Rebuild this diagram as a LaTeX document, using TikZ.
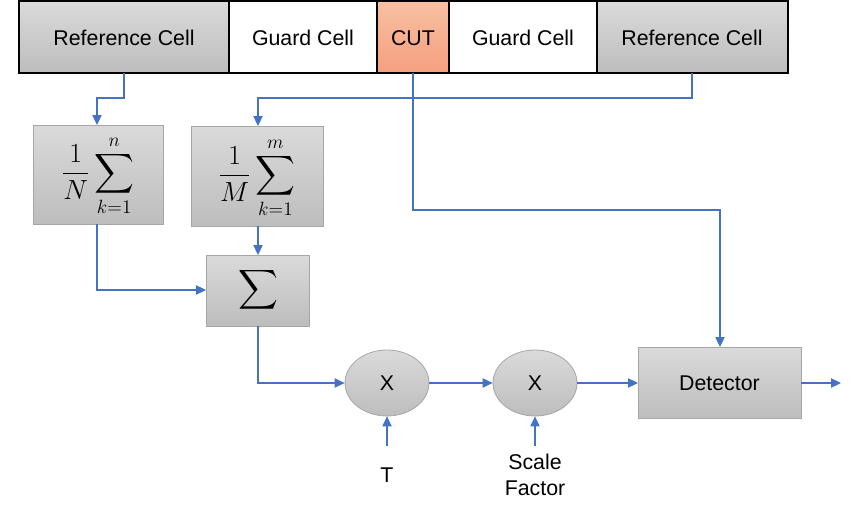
\documentclass[tikz,border=0pt]{standalone}
\usepackage{amsmath}
\usepackage{fontspec}
\setmainfont{Liberation Sans}
\usetikzlibrary{arrows.meta,shapes.geometric}
\definecolor{gtop}{HTML}{DADADA}
\definecolor{gbot}{HTML}{BDBDBD}
\definecolor{gedge}{HTML}{A6A6A6}
\definecolor{ctop}{HTML}{F8BFA3}
\definecolor{cbot}{HTML}{F4A07E}
\definecolor{conn}{HTML}{4472C4}
\tikzset{
  cellg/.style={draw=black,line width=1.2pt,top color=gtop,bottom color=gbot},
  cellw/.style={draw=black,line width=1.2pt,fill=white},
  cellc/.style={draw=black,line width=1.2pt,top color=ctop,bottom color=cbot},
  blk/.style={draw=gedge,line width=0.6pt,top color=gtop,bottom color=gbot},
  mul/.style={ellipse,draw=gedge,line width=0.6pt,top color=gtop,bottom color=gbot,minimum width=84*0.75pt,minimum height=66*0.75pt,inner sep=0pt,font=\fontsize{16}{19}\selectfont},
  lbl/.style={font=\fontsize{16}{19}\selectfont,align=center},
  mathlbl/.style={font=\fontsize{20}{24}\selectfont,inner sep=0pt},
  wire/.style={draw=conn,line width=0.8pt},
  arr/.style={wire,-{Triangle[length=7.5pt,width=7pt]}}
}
\begin{document}
\begin{tikzpicture}[x=0.75pt,y=-0.75pt]
\useasboundingbox (0,0) rectangle (854,514);
% top row
\path[cellg] (19,1) rectangle (229,73); \node[lbl] (r1) at (124,38) {Reference Cell};
\path[cellw] (229,1) rectangle (377,73); \node[lbl] (g1) at (303,38) {Guard Cell};
\path[cellc] (377,1) rectangle (449,73); \node[lbl] (cut) at (413,38) {CUT};
\path[cellw] (449,1) rectangle (597,73); \node[lbl] (g2) at (523,38) {Guard Cell};
\path[cellg] (597,1) rectangle (788,73); \node[lbl] (r2) at (692,38) {Reference Cell};
\coordinate (r1b) at (124,73);
\coordinate (r2b) at (692,73);
\coordinate (cutb) at (413,73);
% boxes
\path[blk] (33,125) rectangle (163,224); \coordinate (b1t) at (97,125); \coordinate (b1b) at (97,224);
\node[mathlbl] (avgN) at (98,176) {$\displaystyle\frac{1}{N}\sum_{k=1}^{n}$};
\path[blk] (191,126) rectangle (323,226); \coordinate (b2t) at (258,126); \coordinate (b2b) at (258,226);
\node[mathlbl] (avgM) at (257,178) {$\displaystyle\frac{1}{M}\sum_{k=1}^{m}$};
\path[blk] (206,255) rectangle (309,326); \coordinate (st) at (258,255); \coordinate (sl) at (206,290); \coordinate (sb) at (258,326);
\node[font=\fontsize{22}{26}\selectfont] (sum) at (258,290) {$\displaystyle\sum$};
% multipliers
\node[mul] (m1) at (387,383) {X};
\node[mul] (m2) at (535,383) {X};
\path[blk] (638,347) rectangle (801,418); \node[lbl] (det) at (719.5,383) {Detector};
\coordinate (dl) at (638,383); \coordinate (dr) at (801,383); \coordinate (dt) at (720,347);
\coordinate (out) at (841,383);
\node[lbl] (T) at (387,475) {T};
\node[lbl] (sf) at (535,475) {Scale\\Factor};
\coordinate (tT) at (387,446);
\coordinate (tS) at (535,446);
% connectors
\draw[arr] (r1b) -- (124,98) -- (97,98) -- (b1t);
\draw[arr] (r2b) -- (692,98) -- (258,98) -- (b2t);
\draw[arr] (cutb) -- (413,210) -- (720,210) -- (dt);
\draw[arr] (b2b) -- (st);
\draw[arr] (b1b) -- (97,290) -- (sl);
\draw[arr] (sb) -- (258,383) -- (m1.west);
\draw[arr] (m1.east) -- (m2.west);
\draw[arr] (m2.east) -- (dl);
\draw[arr] (dr) -- (out);
\draw[arr] (tT) -- (m1.south);
\draw[arr] (tS) -- (m2.south);
\end{tikzpicture}
\end{document}
